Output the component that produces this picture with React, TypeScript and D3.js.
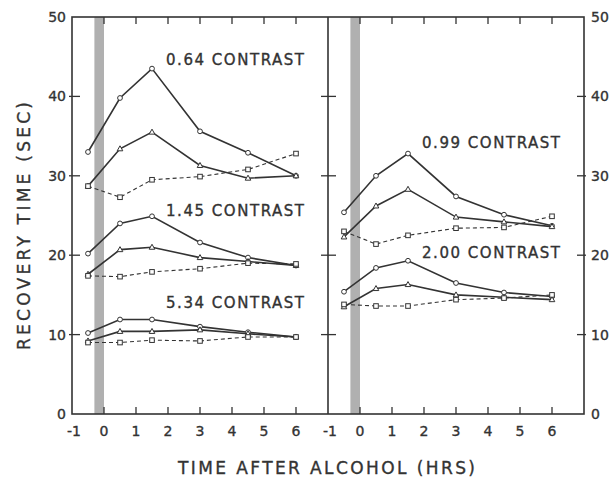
import React, { useEffect, useRef } from 'react';
import * as d3 from 'd3';

// hours after alcohol at which each measurement was taken
const hours = [-0.5, 0.5, 1.5, 3, 4.5, 6];
const xTicks = [-1, 0, 1, 2, 3, 4, 5, 6];
const yTicks = [0, 10, 20, 30, 40, 50];

// left panel
const c064Circle = [33.0, 39.8, 43.5, 35.6, 32.9, 30.0];
const c064Tri = [28.7, 33.4, 35.5, 31.3, 29.7, 30.0];
const c064Sq = [28.7, 27.3, 29.5, 29.9, 30.8, 32.8];
const c145Circle = [20.2, 24.0, 24.9, 21.6, 19.7, 18.7];
const c145Tri = [17.6, 20.7, 21.0, 19.7, 19.2, 18.7];
const c145Sq = [17.4, 17.3, 17.9, 18.3, 19.0, 18.9];
const c534Circle = [10.2, 11.9, 11.9, 11.0, 10.3, 9.7];
const c534Tri = [9.2, 10.4, 10.4, 10.6, 10.1, 9.7];
const c534Sq = [9.0, 9.0, 9.3, 9.2, 9.7, 9.7];

// right panel
const c099Circle = [25.4, 30.0, 32.8, 27.4, 25.1, 23.7];
const c099Tri = [22.3, 26.2, 28.3, 24.8, 24.2, 23.6];
const c099Sq = [23.0, 21.4, 22.5, 23.4, 23.5, 24.9];
const c200Circle = [15.4, 18.4, 19.3, 16.5, 15.3, 14.8];
const c200Tri = [13.5, 15.8, 16.3, 15.0, 14.7, 14.4];
const c200Sq = [13.8, 13.6, 13.6, 14.4, 14.6, 15.0];

const leftLabels = [
  { text: '0.64 CONTRAST', y: 44 },
  { text: '1.45 CONTRAST', y: 24.9 },
  { text: '5.34 CONTRAST', y: 13.3 },
];
const rightLabels = [
  { text: '0.99 CONTRAST', y: 33.5 },
  { text: '2.00 CONTRAST', y: 19.6 },
];

const INK = '#333';

function App() {
  const svgRef = useRef<SVGSVGElement>(null);

  useEffect(() => {
    const width = 614;
    const height = 477;
    const top = 17;
    const bottom = 414;

    const svg = d3.select(svgRef.current);
    svg.selectAll('*').remove();
    svg.attr('width', width).attr('height', height);

    svg.append('rect').attr('width', width).attr('height', height).attr('fill', '#fff');

    const yScale = d3.scaleLinear().domain([0, 50]).range([bottom, top]);

    // slightly heavier lettering, like the printed figure
    const inkText = (sel: any) => sel
      .attr('font-family', 'DejaVu Sans')
      .attr('fill', INK)
      .attr('stroke', INK)
      .attr('stroke-width', 0.35);

    const panels = [
      {
        range: [72, 328],
        series: [
          [c064Circle, 'circle'], [c064Tri, 'tri'], [c064Sq, 'sq'],
          [c145Circle, 'circle'], [c145Tri, 'tri'], [c145Sq, 'sq'],
          [c534Circle, 'circle'], [c534Tri, 'tri'], [c534Sq, 'sq'],
        ],
        labels: leftLabels,
      },
      {
        range: [328, 584],
        series: [
          [c099Circle, 'circle'], [c099Tri, 'tri'], [c099Sq, 'sq'],
          [c200Circle, 'circle'], [c200Tri, 'tri'], [c200Sq, 'sq'],
        ],
        labels: rightLabels,
      },
    ];

    panels.forEach((p, pi) => {
      const xScale = d3.scaleLinear().domain([-1, 7]).range(p.range as [number, number]);
      const g = svg.append('g');

      // alcohol intake band
      g.append('rect')
        .attr('x', xScale(-0.3))
        .attr('y', top)
        .attr('width', xScale(0) - xScale(-0.3))
        .attr('height', bottom - top)
        .attr('fill', '#b0b0b0');

      // ticks on top and bottom
      xTicks.filter(t => t >= 0).forEach(t => {
        g.append('line')
          .attr('x1', xScale(t)).attr('x2', xScale(t))
          .attr('y1', bottom).attr('y2', bottom - 7)
          .attr('stroke', INK).attr('stroke-width', 1.3);
        g.append('line')
          .attr('x1', xScale(t)).attr('x2', xScale(t))
          .attr('y1', top).attr('y2', top + 7)
          .attr('stroke', INK).attr('stroke-width', 1.3);
      });

      // tick labels
      g.selectAll('.xlab')
        .data(xTicks)
        .enter().append('text')
        .attr('x', d => xScale(d) + (d === -1 ? 2 : 0))
        .attr('y', 436)
        .attr('text-anchor', 'middle')
        .attr('font-size', 14)
        .call(inkText)
        .text(d => String(d));

      const line = d3.line<number>()
        .x((d, i) => xScale(hours[i]))
        .y(d => yScale(d));

      p.series.forEach(([vals, shape]) => {
        const values = vals as number[];
        const dashed = shape === 'sq';
        g.append('path')
          .datum(values)
          .attr('d', line)
          .attr('fill', 'none')
          .attr('stroke', INK)
          .attr('stroke-width', dashed ? 1.1 : 1.6)
          .attr('stroke-dasharray', dashed ? '4,3' : null);

        values.forEach((v, i) => {
          const cx = xScale(hours[i]);
          const cy = yScale(v);
          if (shape === 'circle') {
            g.append('circle').attr('cx', cx).attr('cy', cy).attr('r', 2.4)
              .attr('fill', '#fff').attr('stroke', INK).attr('stroke-width', 1);
          } else if (shape === 'tri') {
            g.append('path')
              .attr('d', `M${cx},${cy - 3}L${cx + 2.8},${cy + 2}L${cx - 2.8},${cy + 2}Z`)
              .attr('fill', '#fff').attr('stroke', INK).attr('stroke-width', 1);
          } else {
            g.append('rect').attr('x', cx - 2.3).attr('y', cy - 2.3)
              .attr('width', 4.6).attr('height', 4.6)
              .attr('fill', '#fff').attr('stroke', INK).attr('stroke-width', 1);
          }
        });
      });

      p.labels.forEach(l => {
        g.append('text')
          .attr('x', xScale(6.25))
          .attr('y', yScale(l.y))
          .attr('text-anchor', 'end')
          .attr('font-size', 15)
          .attr('textLength', 138)
          .call(inkText)
          .text(l.text);
      });

      // y ticks on the panel's left edge
      yTicks.filter(t => t > 0 && t < 50).forEach(t => {
        g.append('line')
          .attr('x1', p.range[0] - (pi === 0 ? 3 : 7)).attr('x2', p.range[0] + 8)
          .attr('y1', yScale(t)).attr('y2', yScale(t))
          .attr('stroke', INK).attr('stroke-width', 1.3);
      });
    });

    // right axis ticks
    yTicks.filter(t => t > 0 && t < 50).forEach(t => {
      svg.append('line')
        .attr('x1', 577).attr('x2', 586)
        .attr('y1', yScale(t)).attr('y2', yScale(t))
        .attr('stroke', INK).attr('stroke-width', 1.3);
    });

    // frame and divider
    svg.append('rect')
      .attr('x', 72).attr('y', top)
      .attr('width', 584 - 72).attr('height', bottom - top)
      .attr('fill', 'none').attr('stroke', INK).attr('stroke-width', 1.6);
    svg.append('line')
      .attr('x1', 328).attr('x2', 328).attr('y1', top).attr('y2', bottom)
      .attr('stroke', INK).attr('stroke-width', 1.6);

    // y tick labels
    svg.selectAll('.ylab')
      .data(yTicks)
      .enter().append('text')
      .attr('x', 66)
      .attr('y', d => yScale(d) + 5)
      .attr('text-anchor', 'end')
      .attr('font-size', 14)
      .call(inkText)
      .text(d => String(d));
    svg.selectAll('.ylabr')
      .data(yTicks)
      .enter().append('text')
      .attr('x', 591)
      .attr('y', d => yScale(d) + 5)
      .attr('text-anchor', 'start')
      .attr('font-size', 14)
      .call(inkText)
      .text(d => String(d));

    // axis titles
    svg.append('text')
      .attr('x', 178)
      .attr('y', 474)
      .attr('font-size', 17)
      .attr('textLength', 297)
      .call(inkText)
      .text('TIME AFTER ALCOHOL (HRS)');
    svg.append('text')
      .attr('transform', 'translate(30,350) rotate(-90)')
      .attr('font-size', 17)
      .attr('textLength', 248)
      .call(inkText)
      .text('RECOVERY TIME (SEC)');
  }, []);

  return (
    <div style={{ position: 'absolute', left: 0, top: 0 }}>
      <svg ref={svgRef}></svg>
    </div>
  );
}

export default App;
